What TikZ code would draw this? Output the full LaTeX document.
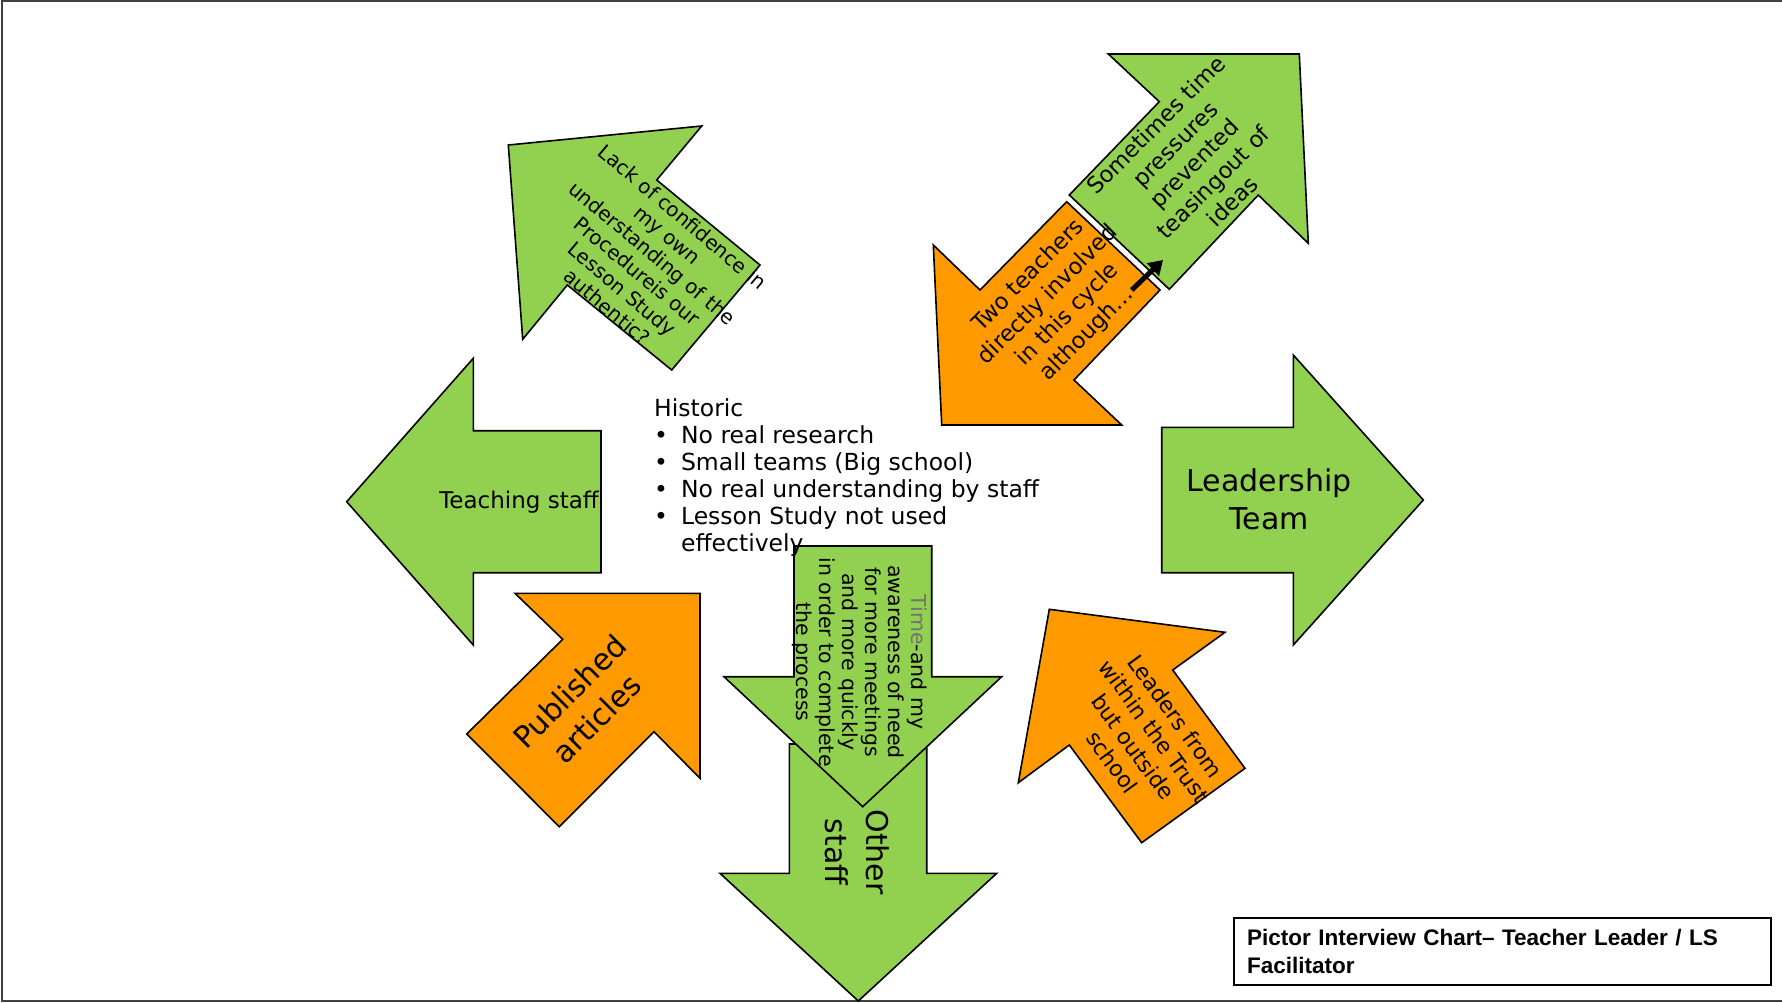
\documentclass[tikz,border=0pt]{standalone}
\usepackage{fontspec}
\setmainfont{DejaVu Sans}
\newfontfamily\captionfont{Liberation Sans}
\usetikzlibrary{arrows.meta}
\definecolor{leaf}{HTML}{92D050}
\definecolor{amber}{HTML}{FF9900}
\definecolor{frameline}{HTML}{404040}

\newcommand{\fsz}[2]{\fontsize{#1}{#2}\selectfont}

\begin{document}
\begin{tikzpicture}[x=1pt,y=-1pt,>=Latex,
  arrowbody/.style={draw=black,line width=1.6pt,line join=miter},
  greenbody/.style={arrowbody,fill=leaf},
  orangebody/.style={arrowbody,fill=amber},
  handtext/.style={align=center,inner sep=0pt,text=black}]
  \useasboundingbox (0,0) rectangle (1782,1002);
  \draw[frameline,line width=2pt] (1782,1) -- (1.5,1) -- (1.5,1000.5) -- (1782,1000.5);

  % left and right
  \draw[greenbody] (601,430.7) -- (473.3,430.7) -- (473.3,358.3) -- (346.7,501.7)
    -- (473.3,645) -- (473.3,572.7) -- (601,572.7) -- cycle;
  \draw[greenbody] (1161.7,427.3) -- (1293.3,427.3) -- (1293.3,355) -- (1423.3,500)
    -- (1293.3,645) -- (1293.3,572.7) -- (1161.7,572.7) -- cycle;

  % down
  \draw[greenbody] (789.3,744) -- (926.7,744) -- (926.7,873.3) -- (996.7,873.3)
    -- (858.3,1001) -- (720,873.3) -- (789.3,873.3) -- cycle;
  \draw[greenbody] (794,546) -- (931.7,546) -- (931.7,676.7) -- (1001.7,676.7)
    -- (862.7,806.7) -- (724,676.7) -- (794,676.7) -- cycle;

  % diagonals
  \draw[orangebody] (515,593.3) -- (700,593.3) -- (700,778.3) -- (654,731.7)
    -- (559.3,826.7) -- (466.7,734) -- (562.7,639.3) -- cycle;
  \draw[greenbody] (508.3,145) -- (701.7,126) -- (656.7,180) -- (760,265)
    -- (671.7,370) -- (567.3,285) -- (522.7,339.3) -- cycle;
  \draw[greenbody] (1108.3,54) -- (1299.3,54) -- (1308.3,243.3) -- (1258.3,195)
    -- (1169.3,289.3) -- (1069.3,195) -- (1159.3,101.7) -- cycle;
  \draw[orangebody] (933.3,245) -- (980,290) -- (1066.7,201.7) -- (1160,290)
    -- (1074,380) -- (1121.7,425) -- (941.7,425) -- cycle;
  \draw[orangebody] (1049.3,609.3) -- (1225,632.3) -- (1172.7,670) -- (1245,768.3)
    -- (1141.7,842.7) -- (1069.3,745) -- (1018.3,782.7) -- cycle;

  \node[handtext,font=\fsz{23}{28}] (teaching) at (519,502) {Teaching staff};
  \node[handtext,font=\fsz{30}{38}] (leadership) at (1269,499) {Leadership\\Team};
  \node[handtext,font=\fsz{30}{41},rotate=-90] (other) at (857,852) {Other\\staff};
  \node[handtext,font=\fsz{20.5}{23},rotate=-90] (time) at (860,662)
    {{\color{black!55}Time}-and my\\awareness of need\\for more meetings\\and more quickly\\in order to complete\\the process};
  \node[handtext,font=\fsz{30}{38},rotate=45] (published) at (583,705) {Published\\articles};
  \node[handtext,font=\fsz{20}{23.5},rotate=-40] (confidence) at (645,262)
    {Lack of confidence in\\my own\\understanding of the\\Procedureis our\\Lesson Study\\authentic?};
  \node[handtext,font=\fsz{22.5}{27},rotate=45] (pressures) at (1194,163)
    {Sometimes time\\pressures\\prevented\\teasingout of\\ideas};
  \node[handtext,font=\fsz{22.5}{27.6},rotate=45] (teachers) at (1058,305)
    {Two teachers\\directly involved\\in this cycle\\although\dots};
  \node[handtext,font=\fsz{22}{26},rotate=-54] (trust) at (1144,739)
    {Leaders from\\within the Trust\\but outside\\school};

  \coordinate (kickfrom) at (1131.7,290);
  \coordinate (kickto) at (1163,260);
  \draw[line width=5pt,-{Triangle[length=14pt,width=17pt]}] (kickfrom) -- (kickto);

  \node[anchor=north west,inner sep=0pt,font=\fsz{23.5}{27}] (historic) at (654,397)
    {\begin{tabular}{@{}l@{\hskip 13pt}l@{}}
      \multicolumn{2}{@{}l}{Historic}\\
      \textbullet & No real research\\
      \textbullet & Small teams (Big school)\\
      \textbullet & No real understanding by staff\\
      \textbullet & Lesson Study not used\\
                  & effectively
    \end{tabular}};

  \node[draw,line width=1.6pt,minimum width=537pt,minimum height=67pt,text width=511pt,
    align=left,inner sep=0pt,font=\captionfont\bfseries\fsz{22.5}{28}] (caption) at (1502.5,951.5)
    {Pictor Interview Chart– Teacher Leader / LS\\Facilitator};
\end{tikzpicture}
\end{document}
